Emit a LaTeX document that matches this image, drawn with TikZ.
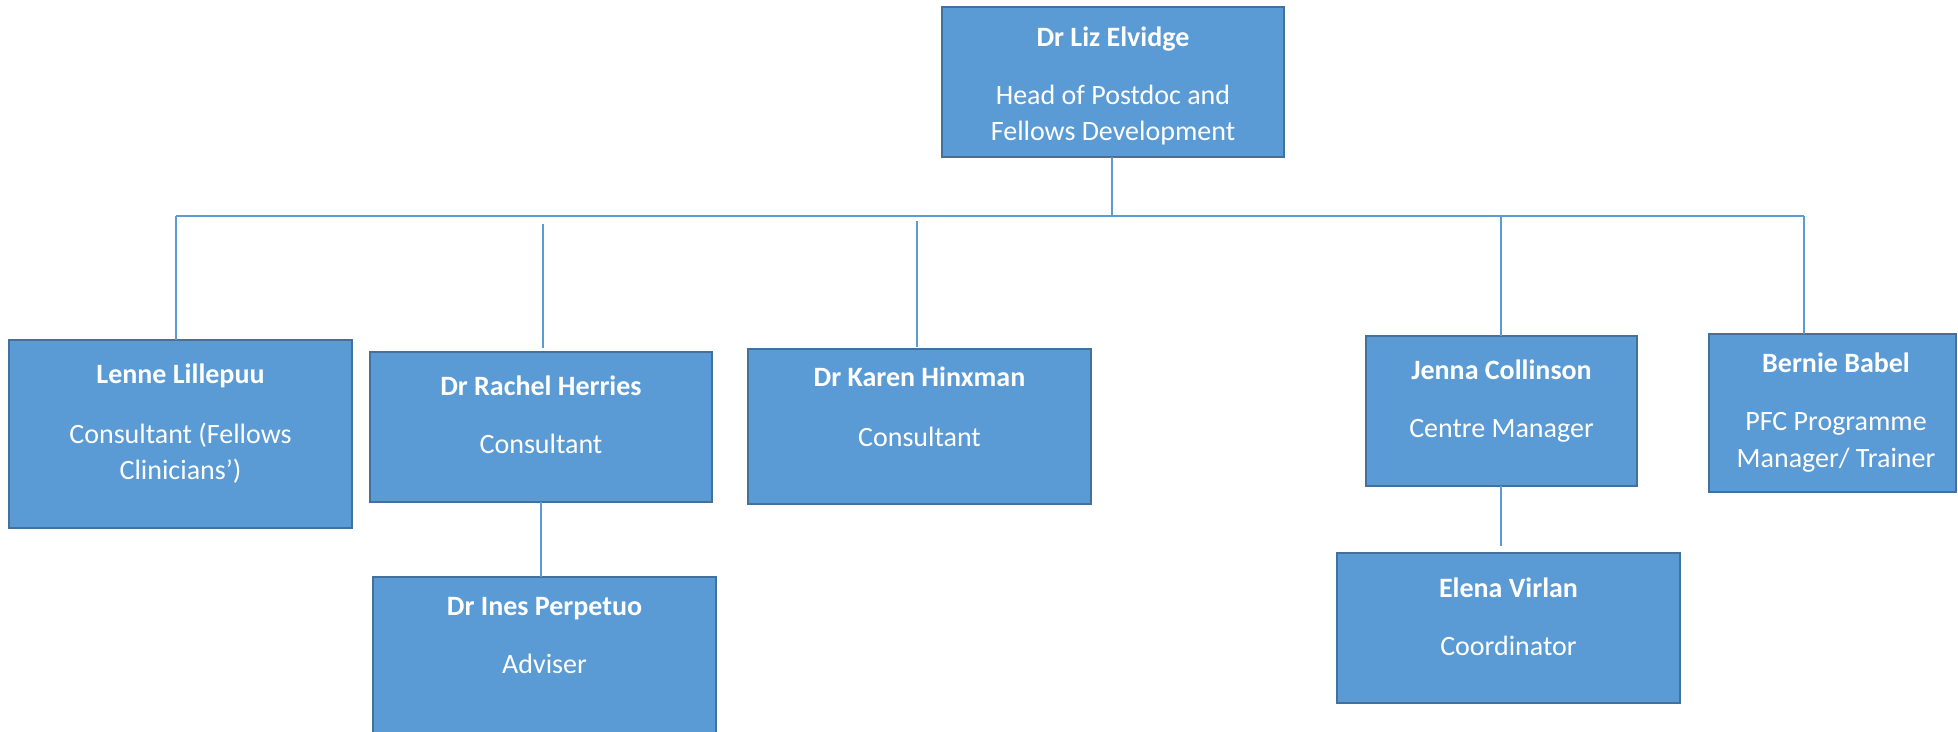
\documentclass[tikz,border=0pt]{standalone}
\usepackage{fontspec}
\setmainfont{Carlito}
\definecolor{boxfill}{HTML}{5B9BD5}
\definecolor{boxline}{HTML}{41719C}
\definecolor{connc}{HTML}{5B9BD5}
\begin{document}
\begin{tikzpicture}[x=1pt,y=-1pt,
  orgbox/.style={draw=boxline, fill=boxfill, line width=2.5pt, inner sep=0pt, outer sep=0pt},
  pname/.style={anchor=base, text=white, font=\fontsize{28}{33}\selectfont\bfseries, inner sep=0pt},
  prole/.style={anchor=base, text=white, font=\fontsize{28}{33}\selectfont, inner sep=0pt},
  conn/.style={draw=connc, line width=1.5pt}]
\useasboundingbox (0,0) rectangle (1958,731);
\clip (0,0) rectangle (1958,731);
% boxes
\node[orgbox, minimum width=342pt, minimum height=150pt] (liz) at (1113,82) {};
\node[pname] at (1113,46) {Dr Liz Elvidge};
\node[prole] at (1113,104) {Head of Postdoc and};
\node[prole] at (1113,140) {Fellows Development};

\node[orgbox, minimum width=343pt, minimum height=188pt] (lenne) at (180.5,434) {};
\node[pname] at (180.5,383) {Lenne Lillepuu};
\node[prole] at (180.5,443) {Consultant (Fellows};
\node[prole] at (180.5,479) {Clinicians’)};

\node[orgbox, minimum width=342pt, minimum height=150pt] (rachel) at (541,427) {};
\node[pname] at (541,395) {Dr Rachel Herries};
\node[prole] at (541,453) {Consultant};

\node[orgbox, minimum width=343pt, minimum height=155pt] (karen) at (919.5,426.5) {};
\node[pname] at (919.5,386) {Dr Karen Hinxman};
\node[prole] at (919.5,446) {Consultant};

\node[orgbox, minimum width=271pt, minimum height=150pt] (jenna) at (1501.5,411) {};
\node[pname] at (1501.5,379) {Jenna Collinson};
\node[prole] at (1501.5,437) {Centre Manager};

\node[orgbox, minimum width=247pt, minimum height=158pt] (bernie) at (1832.5,413) {};
\node[pname] at (1836,372) {Bernie Babel};
\node[prole] at (1836,430) {PFC Programme};
\node[prole] at (1836,467) {Manager/ Trainer};

\node[orgbox, minimum width=343pt, minimum height=180pt] (ines) at (544.5,667) {};
\node[pname] at (544.5,615) {Dr Ines Perpetuo};
\node[prole] at (544.5,673) {Adviser};

\node[orgbox, minimum width=343pt, minimum height=150pt] (elena) at (1508.5,628) {};
\node[pname] at (1508.5,597) {Elena Virlan};
\node[prole] at (1508.5,655) {Coordinator};

% bus coordinates
\coordinate (bL) at (176,216);
\coordinate (bR) at (543,216);
\coordinate (bK) at (917,216);
\coordinate (bT) at (1112,216);
\coordinate (bJ) at (1501,216);
\coordinate (bB) at (1804,216);

\draw[conn] (bT |- liz.south) -- (bT);
\draw[conn] (bL) -- (bB);
\draw[conn] (bL) -- (bL |- lenne.north);
\draw[conn, shorten <=8pt, shorten >=4pt] (bR) -- (bR |- rachel.north);
\draw[conn, shorten <=5pt, shorten >=2pt] (bK) -- (bK |- karen.north);
\draw[conn] (bJ) -- (bJ |- jenna.north);
\draw[conn] (bB) -- (bB |- bernie.north);
\draw[conn] (rachel.south) -- (rachel.south |- ines.north);
\draw[conn, shorten >=7pt] (bJ |- jenna.south) -- (bJ |- elena.north);
\end{tikzpicture}
\end{document}
